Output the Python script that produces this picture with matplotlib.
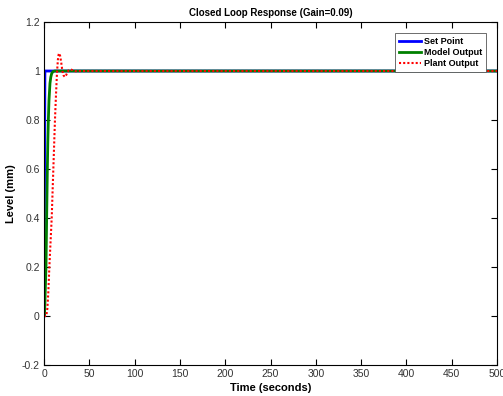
import matplotlib
matplotlib.use("Agg")
import matplotlib.pyplot as plt

plt.rcParams['font.family'] = ['Liberation Sans', 'DejaVu Sans']

# Set point step
sp_t = [0, 1, 500]
sp_y = [0, 1, 1]

# Model output response
model_t = [0, 0.5, 1.0, 1.5, 2.2, 3.0, 3.7, 4.2, 4.8, 5.5, 6.6, 7.5, 8.5, 10, 12, 15, 500]
model_y = [0, 0.0, 0.05, 0.12, 0.2, 0.42, 0.6, 0.71, 0.8, 0.88, 0.95, 0.975, 0.99, 0.998, 1.0, 1.0, 1.0]

# Plant output response
plant_t = [0, 2.5, 3.7, 4.8, 5.9, 7.2, 8.5, 9.4, 10.3, 11.2, 12.1, 13.2, 14.3, 15.3, 16.2, 16.9,
           17.8, 19.0, 20.3, 21.6, 23.0, 24.3, 25.7, 27.2, 28.7, 30.5, 32.5, 35, 40, 50, 500]
plant_y = [0, 0.0, 0.03, 0.1, 0.2, 0.3, 0.4, 0.5, 0.6, 0.7, 0.8, 0.9, 0.99, 1.045, 1.068, 1.072,
           1.062, 1.035, 1.0, 0.982, 0.976, 0.982, 0.994, 1.003, 1.006, 1.005, 1.001, 0.999, 1.0, 1.0, 1.0]

fig = plt.figure(figsize=(5.03, 3.96), dpi=100)
ax = fig.add_axes([44 / 503, 1 - 365 / 396, (497 - 44) / 503, (365 - 22) / 396])

ax.plot(sp_t, sp_y, color='#0000ff', lw=2.0, label='Set Point')
ax.plot(model_t, model_y, color='#008000', lw=2.0, label='Model Output')
ax.plot(plant_t, plant_y, color='#ff0000', lw=1.5, ls=(0, (1, 1)), label='Plant Output')

ax.set_xlim(0, 500)
ax.set_ylim(-0.2, 1.2)
ax.set_xticks(range(0, 501, 50))
ax.set_yticks([-0.2, 0, 0.2, 0.4, 0.6, 0.8, 1.0, 1.2])
ax.set_yticklabels(['-0.2', '0', '0.2', '0.4', '0.6', '0.8', '1', '1.2'])
ax.tick_params(direction='in', top=True, right=True, labelsize=7.5, length=4, width=0.8,
               pad=3, labelcolor='#333333')
for s in ax.spines.values():
    s.set_linewidth(0.8)

ax.set_title('Closed Loop Response (Gain=0.09)', fontsize=7, fontweight='bold', pad=4)
ax.set_xlabel('Time (seconds)', fontsize=8, fontweight='bold', labelpad=3)
ax.set_ylabel('Level (mm)', fontsize=8, fontweight='bold', labelpad=4)

leg = ax.legend(loc='upper right', prop={'weight': 'bold', 'size': 6.5},
                fancybox=False, edgecolor='#555555', framealpha=1,
                handlelength=2.5, handletextpad=0.3, borderpad=0.4, labelspacing=0.25,
                bbox_to_anchor=(0.985, 0.98))
leg.get_frame().set_linewidth(0.6)

fig.savefig('out.png', dpi=100)
